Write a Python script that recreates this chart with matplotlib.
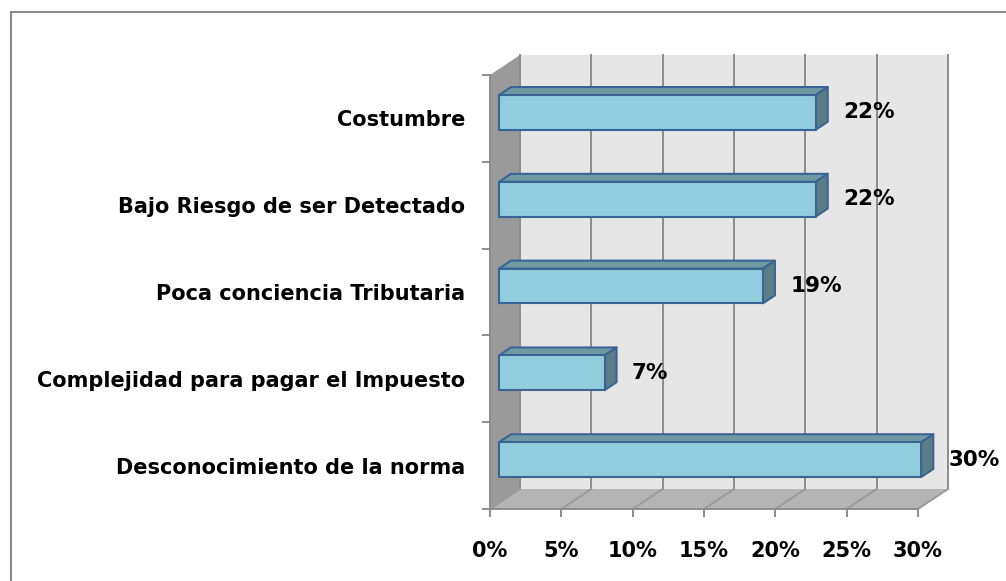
import numpy as np
import matplotlib.pyplot as plt
from matplotlib.patches import Polygon, Rectangle

categories = ["Desconocimiento de la norma",
              "Complejidad para pagar el Impuesto",
              "Poca conciencia Tributaria",
              "Bajo Riesgo de ser Detectado",
              "Costumbre"]
values = [29.6, 7.4, 18.5, 22.2, 22.2]
labels = ["30%", "7%", "19%", "22%", "22%"]
xticks = [0, 5, 10, 15, 20, 25, 30]

plt.rcParams['font.family'] = ['DejaVu Sans']

fig = plt.figure(figsize=(10.06, 5.81), dpi=100)
ax = fig.add_axes([490 / 1006, 72 / 581, 428 / 1006, 434 / 581])
ax.set_xlim(0, 30)
ax.set_ylim(-0.5, 4.5)

# fake 3d depth, in data units
dx = 30 / 428 * 30
dy = 20 / 434 * 5
n = len(categories)

# walls
ax.add_patch(Polygon([(0, -0.5), (0, n - 0.5), (dx, n - 0.5 + dy), (dx, -0.5 + dy)],
                     closed=True, fc="#9a9a9a", ec="none", clip_on=False, zorder=1))
ax.add_patch(Polygon([(0, -0.5), (30, -0.5), (30 + dx, -0.5 + dy), (dx, -0.5 + dy)],
                     closed=True, fc="#b4b4b4", ec="none", clip_on=False, zorder=1))
ax.add_patch(Rectangle((dx, -0.5 + dy), 30, n, fc="#e6e6e6", ec="none",
                       clip_on=False, zorder=1))
for t in xticks:
    ax.plot([t + dx, t + dx], [-0.5 + dy, n - 0.5 + dy], color="#8c8c8c", lw=1.4,
            clip_on=False, zorder=2)
    ax.plot([t, t + dx], [-0.5, -0.5 + dy], color="#9a9a9a", lw=1.4,
            clip_on=False, zorder=2)

# bars
h = 0.4
f0, f1 = 0.3, 0.7
for i, (v, lab) in enumerate(zip(values, labels)):
    x0, y0 = f0 * dx, i - h / 2 + f0 * dy
    y1 = y0 + h
    ex, ey = (f1 - f0) * dx, (f1 - f0) * dy
    kw = dict(ec="#3b6496", lw=1.5, clip_on=False, zorder=3, joinstyle="round")
    ax.add_patch(Polygon([(x0, y1), (x0 + ex, y1 + ey), (v + x0 + ex, y1 + ey), (v + x0, y1)],
                         closed=True, fc="#6f9aa4", **kw))
    ax.add_patch(Polygon([(v + x0, y0), (v + x0, y1), (v + x0 + ex, y1 + ey), (v + x0 + ex, y0 + ey)],
                         closed=True, fc="#5b7e86", **kw))
    ax.add_patch(Rectangle((x0, y0), v, h, fc="#92cddd", **kw))
    ax.annotate(lab, (v + x0 + ex, i + f0 * dy), xytext=(11, 0), textcoords="offset points",
                ha="left", va="center", fontsize=15.5, fontweight="bold", zorder=4,
                annotation_clip=False)

for s in ["top", "right"]:
    ax.spines[s].set_visible(False)
for s in ["left", "bottom"]:
    ax.spines[s].set_color("#8c8c8c")
    ax.spines[s].set_linewidth(1.4)
    ax.spines[s].set_zorder(2)

ax.set_xticks(xticks)
ax.set_xticklabels([f"{t}%" for t in xticks], fontsize=15, fontweight="bold")
ax.tick_params(axis="x", length=6, width=1.4, color="#8c8c8c", pad=17)
ax.set_yticks(range(n))
ax.set_yticklabels(categories, fontsize=15, fontweight="bold")
ax.set_yticks(np.arange(-0.5, n, 1), minor=True)
ax.tick_params(axis="y", which="major", length=0, pad=18)
ax.tick_params(axis="y", which="minor", length=6, width=1.4, color="#8c8c8c")
ax.set_facecolor("none")

fig.add_artist(Rectangle((11 / 1006, -0.1), 1.2, 1 - 12 / 581 + 0.1, transform=fig.transFigure,
                         fill=False, ec="#8c8c8c", lw=1.5))

fig.savefig("out.png", dpi=100)
